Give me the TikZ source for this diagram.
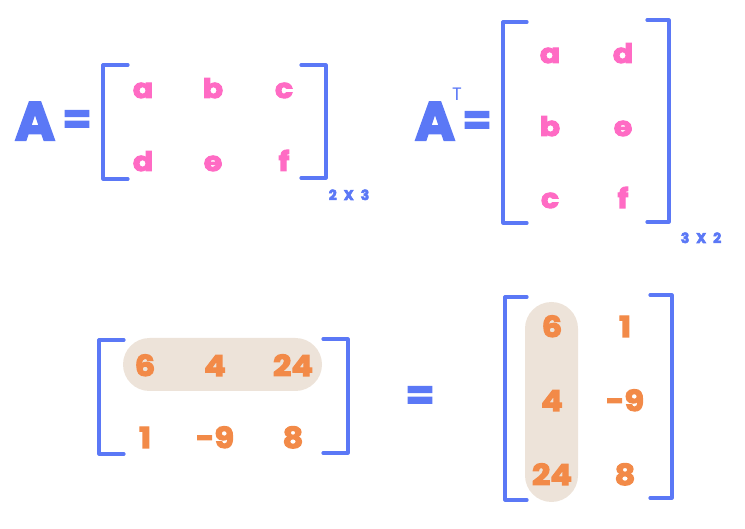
\documentclass[tikz,border=0pt]{standalone}
\usepackage{fontspec}
\setmainfont{Poppins}
\newcommand{\thick}[2]{\special{pdf:literal direct 2 Tr #1 w}#2\special{pdf:literal direct 0 Tr}}
\newcommand{\wide}[2]{\scalebox{1.1}[1]{\thick{#1}{#2}}}
\definecolor{mblue}{HTML}{5B78F6}
\definecolor{mpink}{HTML}{FF6BC4}
\definecolor{morange}{HTML}{F28A48}
\definecolor{mbeige}{HTML}{EDE3D9}
\tikzset{
  brk/.style={draw=mblue, line width=3.2pt, line join=round, line cap=round},
  letter/.style={text=mpink, font=\fontsize{27}{27}\selectfont\bfseries, inner sep=0pt, anchor=base},
  digit/.style={text=morange, font=\fontsize{29}{29}\selectfont\bfseries, inner sep=0pt, anchor=base},
  bigA/.style={text=mblue, font=\fontsize{54}{54}\selectfont\bfseries, inner sep=0pt, anchor=base},
  eqsign/.style={text=mblue, font=\fontsize{42}{42}\selectfont\bfseries, inner sep=0pt, anchor=center},
  dims/.style={text=mblue, font=\fontsize{14}{14}\selectfont\bfseries, inner sep=0pt, anchor=base},
  pill/.style={fill=mbeige, draw=none}
}
\begin{document}
\begin{tikzpicture}[x=1pt,y=-1pt]
\useasboundingbox (0,0) rectangle (745,529);
% ---------- A ----------
\node[bigA] (A1) at (35,140) {\thick{2}{A}};
\node[eqsign] (eq1) at (77,122) {\thick{1}{=}};
\draw[brk] (128,65) -- (103,65) -- (103,179) -- (128,179);
\draw[brk] (301,65) -- (326,65) -- (326,178) -- (301,178);
\node[letter] (a1) at (143,98) {\wide{1}{a}};
\node[letter] (b1) at (213,98) {\wide{1}{b}};
\node[letter] (c1) at (284,98) {\wide{1}{c}};
\node[letter] (d1) at (143,171) {\wide{1}{d}};
\node[letter] (e1) at (213,171) {\wide{1}{e}};
\node[letter] (f1) at (284,171) {\wide{1}{f}};
\node[dims] (dim1) at (349,200) {\thick{0.6}{2\hspace{4pt} X\hspace{4pt} 3}};
% ---------- A^T ----------
\node[bigA] (A2) at (435,140) {\thick{2}{A}};
\node[text=mblue, font=\fontsize{18}{18}\selectfont, inner sep=0pt, anchor=base] (T2) at (457,101) {T};
\node[eqsign] (eq2) at (477,123) {\thick{1}{=}};
\draw[brk] (527,22) -- (503,22) -- (503,223) -- (527,223);
\draw[brk] (647,20) -- (669,20) -- (669,222) -- (647,222);
\node[letter] (a2) at (550,63) {\wide{1}{a}};
\node[letter] (d2) at (623,63) {\wide{1}{d}};
\node[letter] (b2) at (550,136) {\wide{1}{b}};
\node[letter] (e2) at (623,136) {\wide{1}{e}};
\node[letter] (c2) at (550,208) {\wide{1}{c}};
\node[letter] (f2) at (623,208) {\wide{1}{f}};
\node[dims] (dim2) at (701,243) {\thick{0.6}{3\hspace{4pt} X\hspace{4pt} 2}};
% ---------- bottom left ----------
\fill[pill, rounded corners=26.5pt] (123,338) rectangle (322,391);
\draw[brk] (124,340) -- (99,340) -- (99,454) -- (124,454);
\draw[brk] (323,339) -- (348,339) -- (348,453) -- (323,453);
\node[digit] (n1) at (145,376) {\wide{1.1}{6}};
\node[digit] (n2) at (215,376) {\wide{1.1}{4}};
\node[digit] (n3) at (293,376) {\wide{1.1}{24}};
\node[digit] (n4) at (145,448) {\wide{1.1}{1}};
\node[digit] (n5) at (215,448) {\wide{1.1}{-9}};
\node[digit] (n6) at (293,448) {\wide{1.1}{8}};
% ---------- equals ----------
\node[eqsign] (eq3) at (420,398) {\thick{1}{=}};
% ---------- bottom right ----------
\fill[pill, rounded corners=26.5pt] (525,302) rectangle (578,502);
\draw[brk] (527,297) -- (505,297) -- (505,500) -- (527,500);
\draw[brk] (650,295) -- (672,295) -- (672,498) -- (650,498);
\node[digit] (m1) at (552,337) {\wide{1.1}{6}};
\node[digit] (m2) at (625,337) {\wide{1.1}{1}};
\node[digit] (m3) at (552,411) {\wide{1.1}{4}};
\node[digit] (m4) at (625,411) {\wide{1.1}{-9}};
\node[digit] (m5) at (552,485) {\wide{1.1}{24}};
\node[digit] (m6) at (625,485) {\wide{1.1}{8}};
\end{tikzpicture}
\end{document}
